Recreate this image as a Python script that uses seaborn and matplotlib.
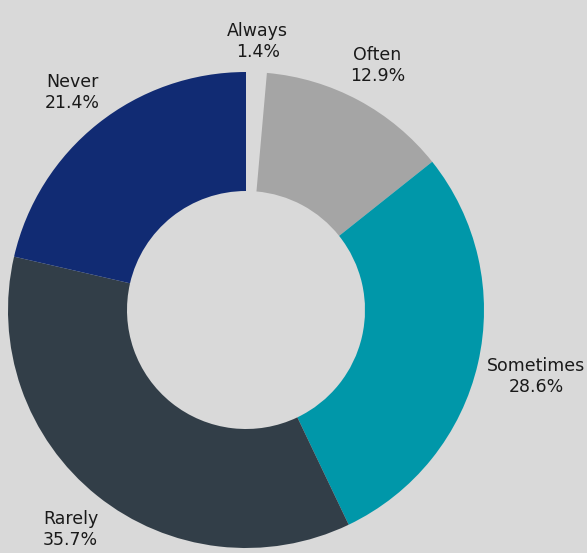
import numpy as np
import matplotlib
matplotlib.use("Agg")
import matplotlib.pyplot as plt
import seaborn as sns

categories = ["Always", "Often", "Sometimes", "Rarely", "Never"]
values = [1.4, 12.9, 28.6, 35.7, 21.4]
colors = ["#d9d9d9", "#a5a5a5", "#0097a9", "#323e48", "#112b73"]
label_dist = [1.13, 1.165, 1.25, 1.18, 1.17]

sns.set_style("white")
plt.rcParams['font.family'] = ['DejaVu Sans']

bg = "#d9d9d9"
W, H = 587, 553
fig = plt.figure(figsize=(W / 100, H / 100), dpi=100, facecolor=bg)
r_px = 238
cx, cy = 246, 310
ax = fig.add_axes([(cx - r_px) / W, (H - cy - r_px) / H, 2 * r_px / W, 2 * r_px / H])
ax.set_facecolor(bg)

palette = sns.color_palette(colors)
wedges, _ = ax.pie(values, colors=palette, startangle=90, counterclock=False,
                   radius=1.0, wedgeprops=dict(width=0.5, linewidth=0))

for w, cat, v, d in zip(wedges, categories, values, label_dist):
    ang = np.deg2rad((w.theta1 + w.theta2) / 2)
    ax.text(d * np.cos(ang), d * np.sin(ang), f"{cat}\n{v:.1f}%",
            ha="center", va="center", fontsize=12.5, color="#1a1a1a",
            linespacing=1.2)

ax.set_xlim(-1, 1)
ax.set_ylim(-1, 1)
ax.set_aspect("equal")
ax.axis("off")
fig.savefig("out.png", dpi=100, facecolor=bg)
